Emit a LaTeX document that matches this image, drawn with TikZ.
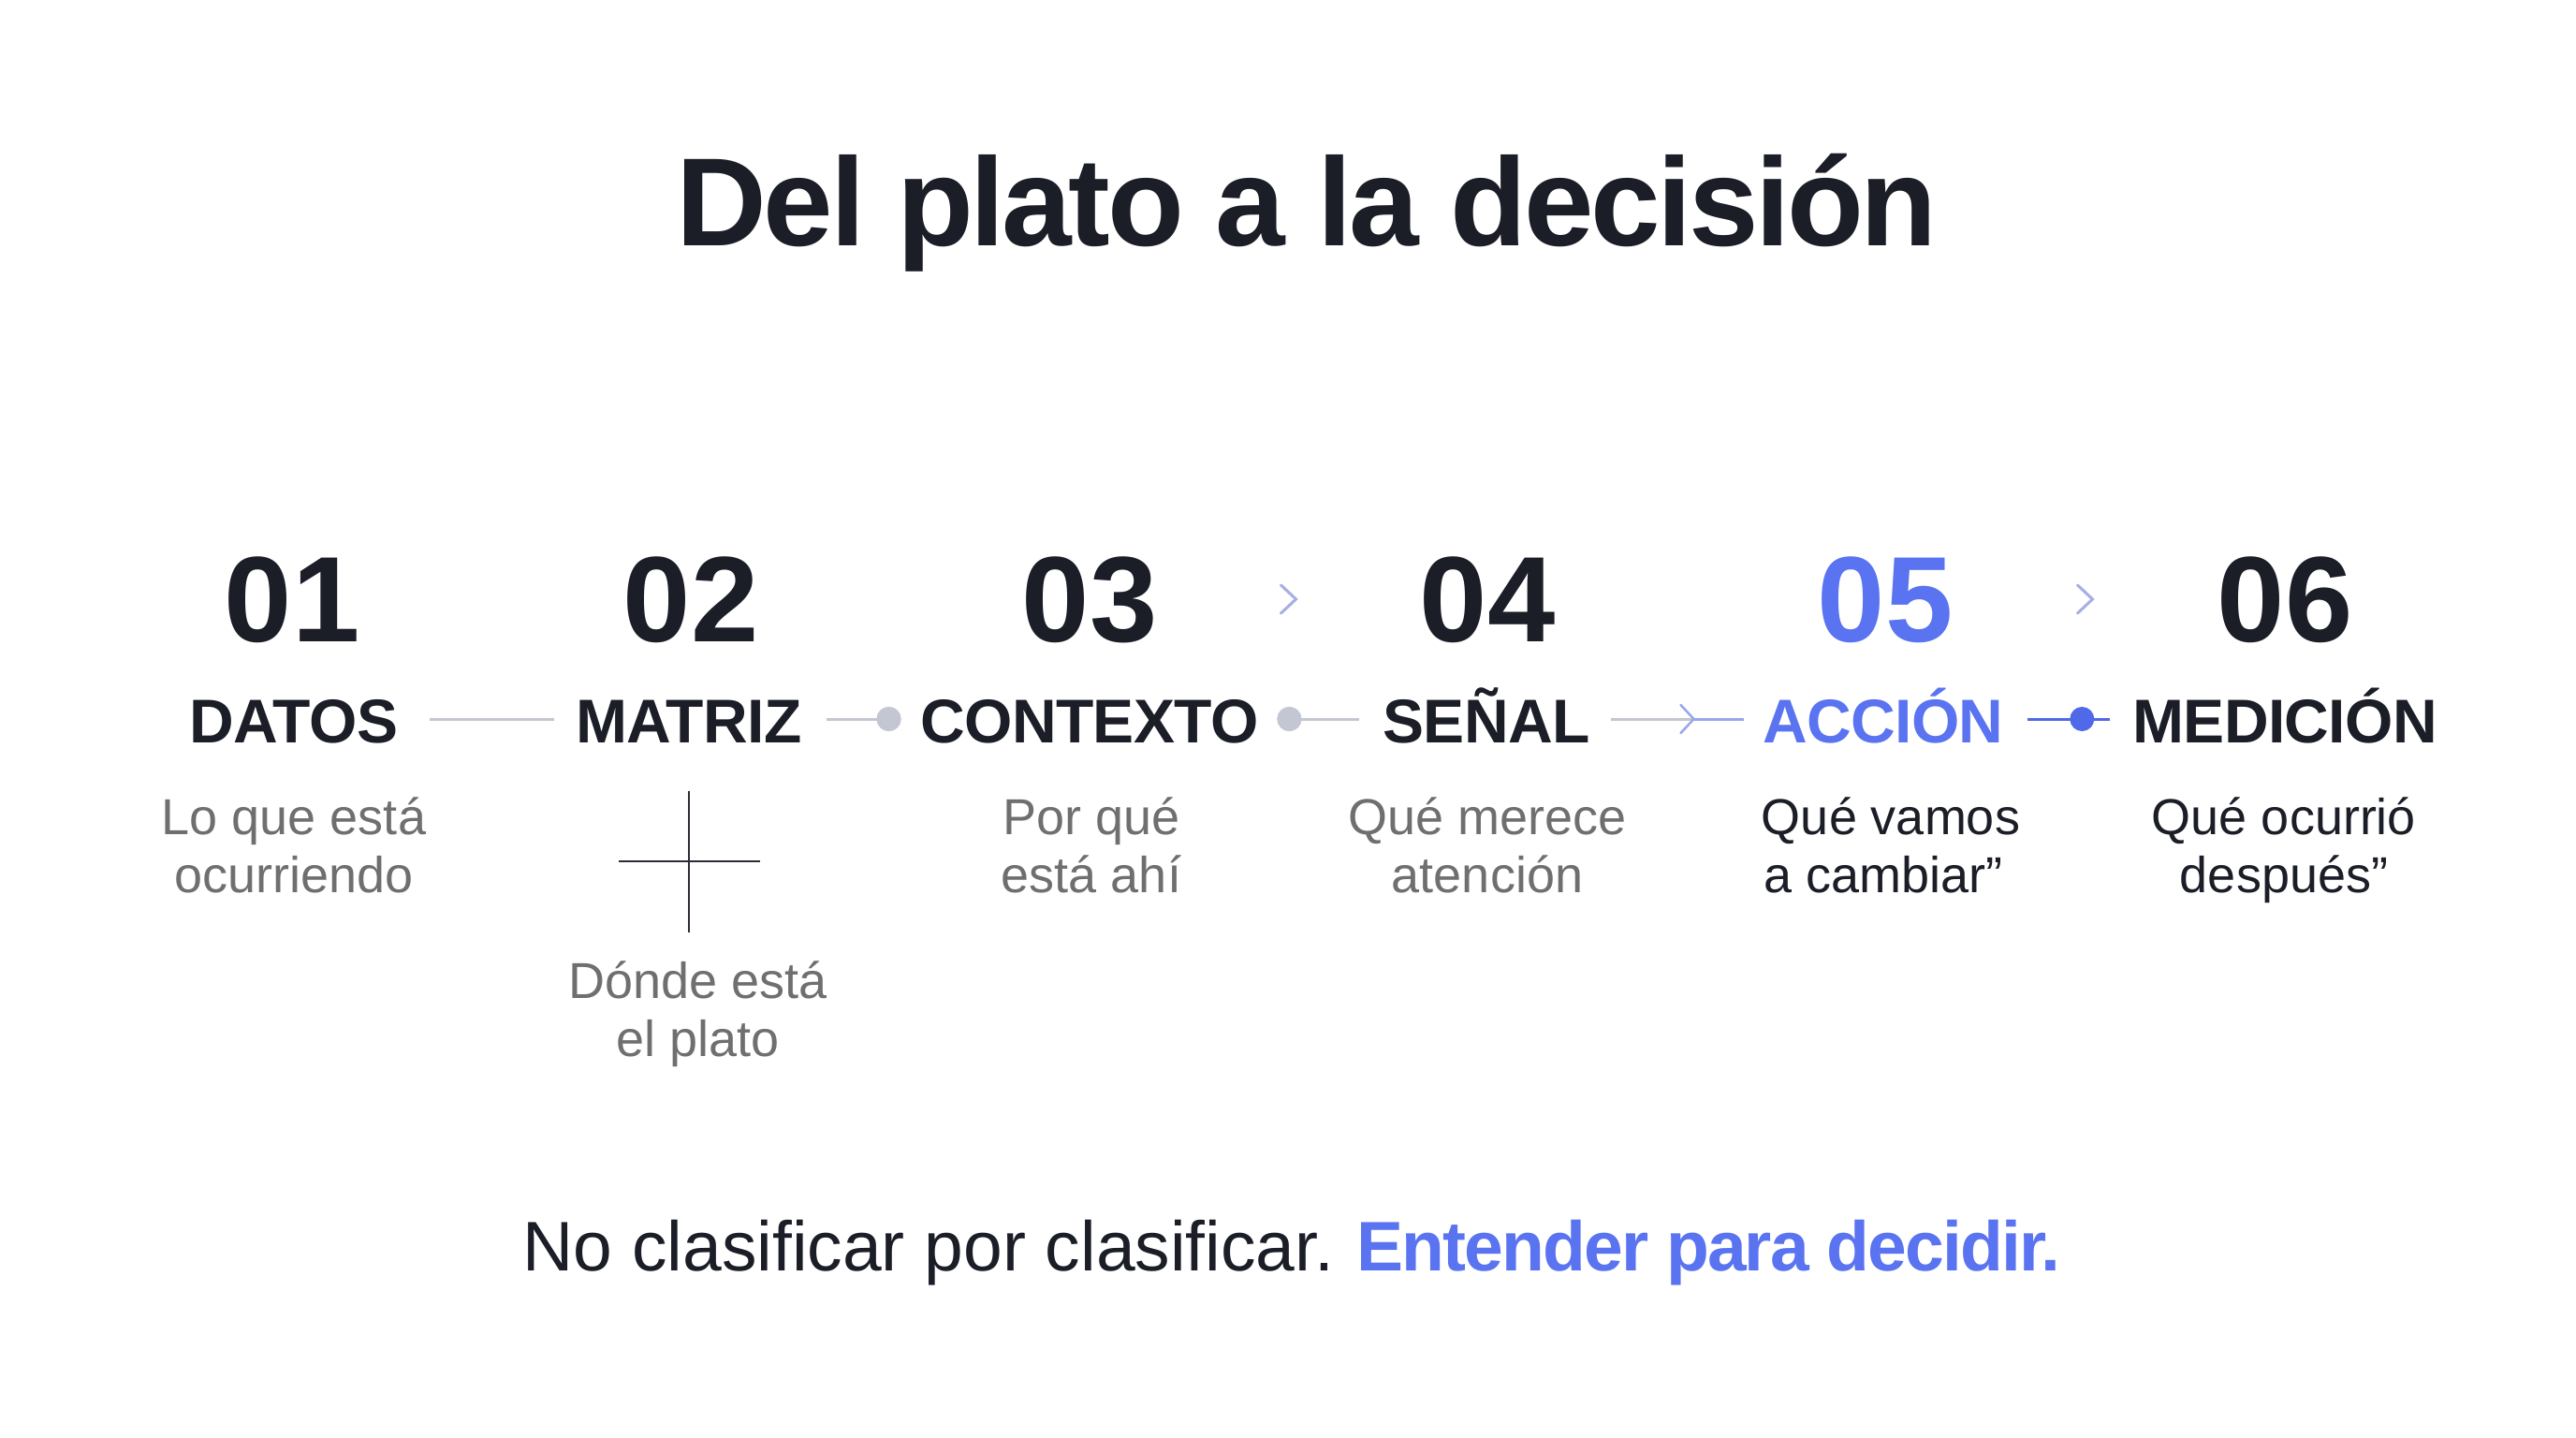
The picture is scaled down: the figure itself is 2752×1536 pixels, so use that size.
\documentclass[tikz,border=0pt]{standalone}
\usepackage{fontspec}
\setmainfont{Liberation Sans}
\usetikzlibrary{calc}
\definecolor{ink}{HTML}{1B1E27}
\definecolor{accent}{HTML}{5A73F1}
\definecolor{muted}{HTML}{6F6F6F}
\definecolor{rule}{HTML}{C4C7D0}
\definecolor{dotgray}{HTML}{C3C6D3}
\definecolor{chev}{HTML}{A7AEE4}
\definecolor{blueline}{HTML}{5069E8}
\definecolor{lightblue}{HTML}{9AA6EC}
\definecolor{crossc}{HTML}{2B2E36}
\begin{document}
\begin{tikzpicture}[x=1pt,y=-1pt,
  every node/.style={inner sep=0pt, outer sep=0pt, anchor=base},
  titletext/.style={font=\fontsize{134}{134}\selectfont\bfseries\addfontfeature{LetterSpace=-2.5}, text=ink},
  numtext/.style={font=\fontsize{130}{130}\selectfont\bfseries\addfontfeature{LetterSpace=1}, text=ink},
  labtext/.style={font=\fontsize{66}{66}\selectfont\bfseries\addfontfeature{LetterSpace=-1}, text=ink},
  desctext/.style={font=\fontsize{54}{54}\selectfont, text=muted},
  darkdesc/.style={font=\fontsize{54}{54}\selectfont, text=ink},
  bottomtext/.style={font=\fontsize{75}{75}\selectfont, text=ink},
  gline/.style={draw=rule, line width=3pt},
  bline/.style={draw=blueline, line width=3pt},
  lbline/.style={draw=lightblue, line width=3pt},
  gdot/.style={circle, fill=dotgray, minimum size=26pt, anchor=center},
  bdot/.style={circle, fill=blueline, minimum size=26pt, anchor=center},
  chevline/.style={draw=chev, line width=3pt, line cap=round, line join=miter},
]
\useasboundingbox[fill=white] (0,0) rectangle (2752,1536);

% title
\node[titletext] (title) at (1396,262) {Del plato a la decisión};

% numbers
\node[numtext] (n1) at (312,685) {01};
\node[numtext] (n2) at (738,685) {02};
\node[numtext] (n3) at (1164,685) {03};
\node[numtext] (n4) at (1589,685) {04};
\node[numtext, text=accent] (n5) at (2014,685) {05};
\node[numtext] (n6) at (2441,685) {06};

% labels
\node[labtext] (l1) at (314,793) {DATOS};
\node[labtext] (l2) at (736,793) {MATRIZ};
\node[labtext] (l3) at (1164,793) {CONTEXTO};
\node[labtext] (l4) at (1588,793) {SEÑAL};
\node[labtext, text=accent] (l5) at (2012,793) {ACCIÓN};
\node[labtext] (l6) at (2441,793) {MEDICIÓN};

% descriptions
\node[desctext] (d1a) at (314,891) {Lo que está};
\node[desctext] (d1b) at (314,953) {ocurriendo};
\node[desctext] (d2a) at (746,1066) {Dónde está};
\node[desctext] (d2b) at (746,1128) {el plato};
\node[desctext] (d3a) at (1166,891) {Por qué};
\node[desctext] (d3b) at (1166,953) {está ahí};
\node[desctext] (d4a) at (1589,891) {Qué merece};
\node[desctext] (d4b) at (1589,953) {atención};
\node[darkdesc] (d5a) at (2020,891) {Qué vamos};
\node[darkdesc] (d5b) at (2012,953) {a cambiar”};
\node[darkdesc] (d6a) at (2440,891) {Qué ocurrió};
\node[darkdesc] (d6b) at (2440,953) {después”};

% cross (matrix icon)
\coordinate (cross) at (736,920);
\draw[crossc, line width=2.5pt] ($(cross)+(0,-75)$) -- ($(cross)+(0,76)$);
\draw[crossc, line width=2.5pt] ($(cross)+(-75,0)$) -- ($(cross)+(76,0)$);

% connector 1: DATOS -- MATRIZ
\draw[gline] ($(l1.base east)+(34,-25)$) -- ($(l2.base west)+(-23,-25)$);

% connector 2: MATRIZ -- dot -- CONTEXTO
\node[gdot] (dot1) at ($(l3.base west)+(-34,-25)$) {};
\draw[gline] ($(l2.base east)+(26,-25)$) -- (dot1.center);
\node[gdot] at (dot1) {};

% connector 3: CONTEXTO -- dot -- SEÑAL
\node[gdot] (dot2) at ($(l3.base east)+(33,-25)$) {};
\draw[gline] (dot2.center) -- ($(l4.base west)+(-25,-25)$);
\node[gdot] at (dot2) {};

% connector 4: SEÑAL -> ACCIÓN
\coordinate (s4a) at ($(l4.base east)+(22,-25)$);
\coordinate (s4b) at ($(l5.base west)+(-21,-25)$);
\coordinate (s4t) at ($(s4a)!0.627!(s4b)$);
\draw[gline] (s4a) -- (s4t);
\draw[lbline] (s4t) -- (s4b);
\draw[draw=lightblue, line width=2.5pt, line cap=round] ($(s4t)+(-14,-15)$) -- (s4t) -- ($(s4t)+(-14,15)$);

% connector 5: ACCIÓN -- dot -- MEDICIÓN
\coordinate (s5a) at ($(l5.base east)+(25,-25)$);
\coordinate (s5b) at ($(l6.base west)+(-24,-25)$);
\draw[bline] (s5a) -- (s5b);
\node[bdot] (dot3) at ($(s5b)+(-30,0)$) {};

% chevrons between numbers
\coordinate (ch1) at ($(n3.base)!0.5!(n4.base)+(8,-45)$);
\coordinate (ch2) at ($(n5.base)!0.5!(n6.base)+(8,-45)$);
\draw[chevline] ($(ch1)+(-16,-15)$) -- (ch1) -- ($(ch1)+(-16,15)$);
\draw[chevline] ($(ch2)+(-16,-15)$) -- (ch2) -- ($(ch2)+(-16,15)$);

% bottom line
\node[bottomtext] (bottom) at (1380,1357) {No clasificar por clasificar.\hspace{-4pt} {\color{accent}\bfseries\addfontfeature{LetterSpace=-2.5}Entender para decidir.}};
\end{tikzpicture}
\end{document}
